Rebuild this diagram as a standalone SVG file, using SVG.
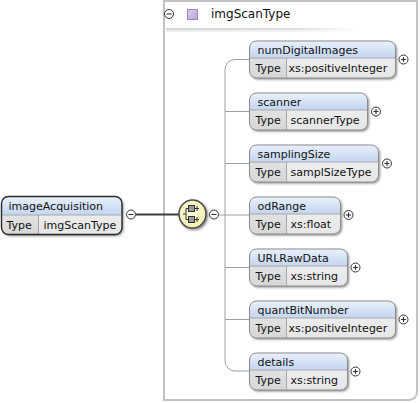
<svg xmlns="http://www.w3.org/2000/svg" width="420" height="403" viewBox="0 0 420 403">
<defs>
<linearGradient id="hdr" x1="0" y1="0" x2="0" y2="1"><stop offset="0" stop-color="#e9f0fb"/><stop offset="1" stop-color="#c3d5f0"/></linearGradient>
<linearGradient id="typ" x1="0" y1="0" x2="0" y2="1"><stop offset="0" stop-color="#f2f2f2"/><stop offset="1" stop-color="#e6e6e6"/></linearGradient>
<linearGradient id="lbl" x1="0" y1="0" x2="0" y2="1"><stop offset="0" stop-color="#e2e2e2"/><stop offset="1" stop-color="#d6d6d6"/></linearGradient>
<linearGradient id="sep" x1="0" y1="0" x2="1" y2="0"><stop offset="0" stop-color="#d4d4d4"/><stop offset="0.7" stop-color="#e0e0e0"/><stop offset="1" stop-color="#ffffff"/></linearGradient>
<linearGradient id="purp" x1="0" y1="0" x2="1" y2="1"><stop offset="0" stop-color="#ddd0ee"/><stop offset="1" stop-color="#b7a3d6"/></linearGradient>
<radialGradient id="seqg" cx="0.45" cy="0.4" r="0.6"><stop offset="0" stop-color="#fffce0"/><stop offset="1" stop-color="#f4eeb0"/></radialGradient>
<filter id="sh" x="-10%" y="-10%" width="130%" height="140%"><feDropShadow dx="1.5" dy="1.5" stdDeviation="1" flood-color="#000" flood-opacity="0.45"/></filter>
</defs>
<style>
text{font-family:"DejaVu Sans","Liberation Sans",sans-serif;font-size:11px;fill:#111}
.box{fill:url(#typ)}
.hd{fill:url(#hdr)}
.lb{fill:url(#lbl)}
.out{fill:none;stroke:#8c8c8c;stroke-width:1}
.rout{fill:none;stroke:#2a2a2a;stroke-width:1.4}
.div{stroke:#a8a8a8;stroke-width:1}
.tog{fill:#fff;stroke:#333;stroke-width:1}
.sg{stroke:#333;stroke-width:1.1}
.tree{fill:none;stroke:#a0a0a0;stroke-width:1}
</style>

<g id="container">
<path d="M164,1 H417 V392 A8,8 0 0 1 409,400 H164 Z" fill="#fff" stroke="#c2c2c2" stroke-width="2"/>
<rect x="166" y="28" width="192" height="2" fill="url(#sep)"/>
<rect x="166" y="30" width="192" height="2" fill="url(#sep)" opacity="0.4"/>
<circle class="tog" cx="169" cy="14" r="4.5"/><line class="sg" x1="166.5" y1="14" x2="171.5" y2="14"/>
<rect x="187.5" y="9.5" width="10" height="10" fill="url(#purp)" stroke="#9a88bd"/>
<text x="211" y="18" style="font-size:12px">imgScanType</text>
</g>

<g id="connectors">
<line x1="136" y1="214.5" x2="179" y2="214.5" stroke="#3a3a3a" stroke-width="2"/>
<path class="tree" d="M250,59.5 H235 A10,10 0 0 0 225,69.5 V361 A10,10 0 0 0 235,371 H250"/>
<line class="tree" x1="219" y1="215" x2="250" y2="215"/>
<line class="tree" x1="225" y1="111.5" x2="250" y2="111.5"/>
<line class="tree" x1="225" y1="163.5" x2="250" y2="163.5"/>
<line class="tree" x1="225" y1="267.5" x2="250" y2="267.5"/>
<line class="tree" x1="225" y1="319.5" x2="250" y2="319.5"/>
</g>

<g id="imageAcquisition" transform="translate(1.5,196.5)">
<rect class="box" width="120.5" height="38" rx="7" filter="url(#sh)"/>
<path class="hd" d="M0,18.5 V7 A7,7 0 0 1 7,0 H113.5 A7,7 0 0 1 120.5,7 V18.5 Z"/>
<path class="lb" d="M0,18.5 H37 V38 H7 A7,7 0 0 1 0,31 Z"/>
<line class="div" x1="0" y1="18.5" x2="120.5" y2="18.5"/>
<line class="div" x1="37" y1="18.5" x2="37" y2="38"/>
<rect class="rout" width="120.5" height="38" rx="7"/>
<text x="7" y="13.5">imageAcquisition</text>
<text x="5" y="32">Type</text>
<text x="42" y="32">imgScanType</text>
<circle class="tog" cx="129.5" cy="18" r="4.5"/><line class="sg" x1="127" y1="18" x2="132" y2="18"/>
</g>

<g id="sequence">
<ellipse cx="192.5" cy="214" rx="13.5" ry="14" fill="url(#seqg)" stroke="#4a4a4a" stroke-width="1.5" filter="url(#sh)"/>
<line x1="183" y1="214" x2="186" y2="214" stroke="#333"/>
<line x1="186" y1="208.5" x2="186" y2="219.5" stroke="#333"/>
<line x1="186" y1="208.5" x2="199" y2="208.5" stroke="#333"/>
<line x1="186" y1="219.5" x2="199" y2="219.5" stroke="#333"/>
<line x1="197" y1="206" x2="197" y2="211" stroke="#333"/>
<line x1="197" y1="217" x2="197" y2="222" stroke="#333"/>
<rect x="188.5" y="205.5" width="6" height="6" fill="#9a9a9a" stroke="#333"/>
<rect x="188.5" y="216.5" width="6" height="6" fill="#9a9a9a" stroke="#333"/>
<circle class="tog" cx="214" cy="214.5" r="4.5"/><line class="sg" x1="211.5" y1="214.5" x2="216.5" y2="214.5"/>
</g>

<g id="numDigitalImages" transform="translate(249.5,41)">
<rect class="box" width="146" height="37" rx="7" filter="url(#sh)"/>
<path class="hd" d="M0,17 V7 A7,7 0 0 1 7,0 H139 A7,7 0 0 1 146,7 V17 Z"/>
<path class="lb" d="M0,17 H37 V37 H7 A7,7 0 0 1 0,30 Z"/>
<line class="div" x1="0" y1="17" x2="146" y2="17"/><line class="div" x1="37" y1="17" x2="37" y2="37"/>
<rect class="out" width="146" height="37" rx="7"/>
<text x="8" y="12.5">numDigitalImages</text><text x="6" y="31">Type</text><text x="39" y="31">xs:positiveInteger</text>
<circle class="tog" cx="154" cy="18.5" r="4.5"/><line class="sg" x1="151.5" y1="18.5" x2="156.5" y2="18.5"/><line class="sg" x1="154" y1="16" x2="154" y2="21"/>
</g>

<g id="scanner" transform="translate(249.5,93)">
<rect class="box" width="118" height="37" rx="7" filter="url(#sh)"/>
<path class="hd" d="M0,17 V7 A7,7 0 0 1 7,0 H111 A7,7 0 0 1 118,7 V17 Z"/>
<path class="lb" d="M0,17 H37 V37 H7 A7,7 0 0 1 0,30 Z"/>
<line class="div" x1="0" y1="17" x2="118" y2="17"/><line class="div" x1="37" y1="17" x2="37" y2="37"/>
<rect class="out" width="118" height="37" rx="7"/>
<text x="8" y="12.5">scanner</text><text x="6" y="31">Type</text><text x="41" y="31">scannerType</text>
<circle class="tog" cx="126.5" cy="18.5" r="4.5"/><line class="sg" x1="124" y1="18.5" x2="129" y2="18.5"/><line class="sg" x1="126.5" y1="16" x2="126.5" y2="21"/>
</g>

<g id="samplingSize" transform="translate(249.5,145)">
<rect class="box" width="129" height="37" rx="7" filter="url(#sh)"/>
<path class="hd" d="M0,17 V7 A7,7 0 0 1 7,0 H122 A7,7 0 0 1 129,7 V17 Z"/>
<path class="lb" d="M0,17 H37 V37 H7 A7,7 0 0 1 0,30 Z"/>
<line class="div" x1="0" y1="17" x2="129" y2="17"/><line class="div" x1="37" y1="17" x2="37" y2="37"/>
<rect class="out" width="129" height="37" rx="7"/>
<text x="8" y="12.5">samplingSize</text><text x="6" y="31">Type</text><text x="41" y="31">samplSizeType</text>
<circle class="tog" cx="137.5" cy="18.5" r="4.5"/><line class="sg" x1="135" y1="18.5" x2="140" y2="18.5"/><line class="sg" x1="137.5" y1="16" x2="137.5" y2="21"/>
</g>

<g id="odRange" transform="translate(249.5,197)">
<rect class="box" width="91" height="37" rx="7" filter="url(#sh)"/>
<path class="hd" d="M0,17 V7 A7,7 0 0 1 7,0 H84 A7,7 0 0 1 91,7 V17 Z"/>
<path class="lb" d="M0,17 H37 V37 H7 A7,7 0 0 1 0,30 Z"/>
<line class="div" x1="0" y1="17" x2="91" y2="17"/><line class="div" x1="37" y1="17" x2="37" y2="37"/>
<rect class="out" width="91" height="37" rx="7"/>
<text x="8" y="12.5">odRange</text><text x="6" y="31">Type</text><text x="41" y="31">xs:float</text>
<circle class="tog" cx="99" cy="18" r="4.5"/><line class="sg" x1="96.5" y1="18" x2="101.5" y2="18"/><line class="sg" x1="99" y1="15.5" x2="99" y2="20.5"/>
</g>

<g id="URLRawData" transform="translate(249.5,249)">
<rect class="box" width="98" height="37" rx="7" filter="url(#sh)"/>
<path class="hd" d="M0,17 V7 A7,7 0 0 1 7,0 H91 A7,7 0 0 1 98,7 V17 Z"/>
<path class="lb" d="M0,17 H37 V37 H7 A7,7 0 0 1 0,30 Z"/>
<line class="div" x1="0" y1="17" x2="98" y2="17"/><line class="div" x1="37" y1="17" x2="37" y2="37"/>
<rect class="out" width="98" height="37" rx="7"/>
<text x="8" y="12.5">URLRawData</text><text x="6" y="31">Type</text><text x="41" y="31">xs:string</text>
<circle class="tog" cx="106" cy="18.5" r="4.5"/><line class="sg" x1="103.5" y1="18.5" x2="108.5" y2="18.5"/><line class="sg" x1="106" y1="16" x2="106" y2="21"/>
</g>

<g id="quantBitNumber" transform="translate(249.5,301)">
<rect class="box" width="146" height="37" rx="7" filter="url(#sh)"/>
<path class="hd" d="M0,17 V7 A7,7 0 0 1 7,0 H139 A7,7 0 0 1 146,7 V17 Z"/>
<path class="lb" d="M0,17 H37 V37 H7 A7,7 0 0 1 0,30 Z"/>
<line class="div" x1="0" y1="17" x2="146" y2="17"/><line class="div" x1="37" y1="17" x2="37" y2="37"/>
<rect class="out" width="146" height="37" rx="7"/>
<text x="8" y="12.5">quantBitNumber</text><text x="6" y="31">Type</text><text x="39" y="31">xs:positiveInteger</text>
<circle class="tog" cx="154" cy="18.5" r="4.5"/><line class="sg" x1="151.5" y1="18.5" x2="156.5" y2="18.5"/><line class="sg" x1="154" y1="16" x2="154" y2="21"/>
</g>

<g id="details" transform="translate(249.5,353)">
<rect class="box" width="98" height="37" rx="7" filter="url(#sh)"/>
<path class="hd" d="M0,17 V7 A7,7 0 0 1 7,0 H91 A7,7 0 0 1 98,7 V17 Z"/>
<path class="lb" d="M0,17 H37 V37 H7 A7,7 0 0 1 0,30 Z"/>
<line class="div" x1="0" y1="17" x2="98" y2="17"/><line class="div" x1="37" y1="17" x2="37" y2="37"/>
<rect class="out" width="98" height="37" rx="7"/>
<text x="8" y="12.5">details</text><text x="6" y="31">Type</text><text x="41" y="31">xs:string</text>
<circle class="tog" cx="106" cy="18.5" r="4.5"/><line class="sg" x1="103.5" y1="18.5" x2="108.5" y2="18.5"/><line class="sg" x1="106" y1="16" x2="106" y2="21"/>
</g>
</svg>
